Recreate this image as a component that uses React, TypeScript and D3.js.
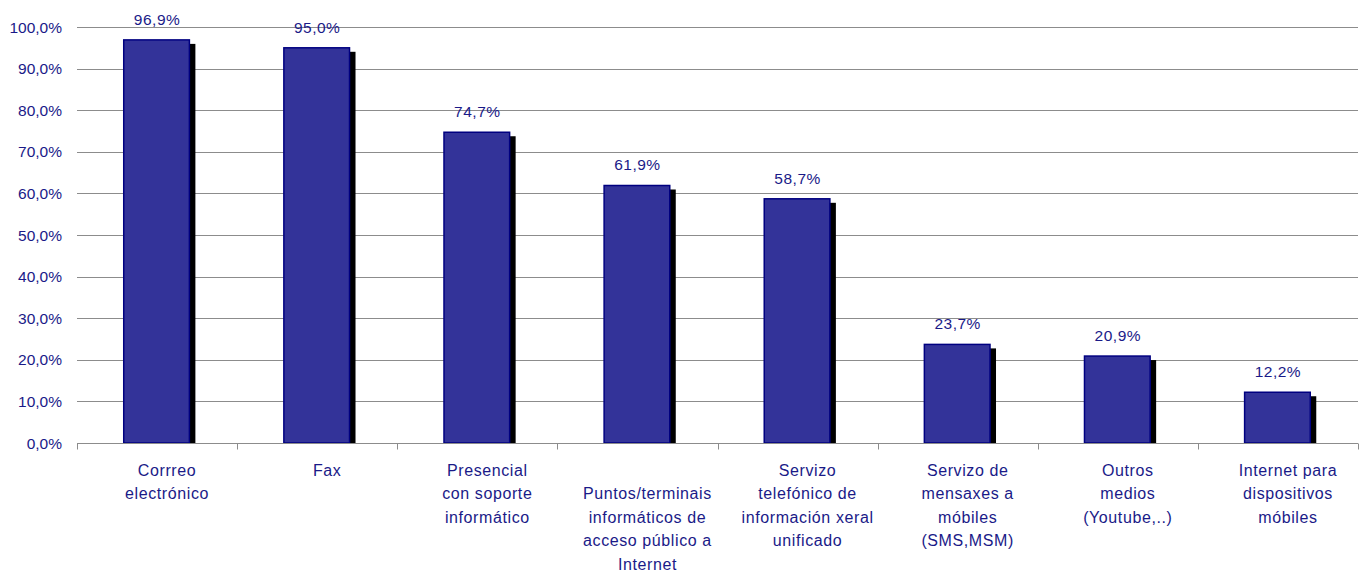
import React, { useRef, useEffect } from "react";
import * as d3 from "d3";

const categories: string[][] = [
  ["Corrreo", "electrónico"],
  ["Fax"],
  ["Presencial", "con soporte", "informático"],
  ["", "Puntos/terminais", "informáticos de", "acceso público a", "Internet"],
  ["Servizo", "telefónico de", "información xeral", "unificado"],
  ["Servizo de", "mensaxes a", "móbiles", "(SMS,MSM)"],
  ["Outros", "medios", "(Youtube,..)"],
  ["Internet para", "dispositivos", "móbiles"],
];
const values: number[] = [96.9, 95.0, 74.7, 61.9, 58.7, 23.7, 20.9, 12.2];
const yTicks: number[] = [0, 10, 20, 30, 40, 50, 60, 70, 80, 90, 100];

const fmt = (v: number) => v.toFixed(1).replace(".", ",") + "%";

const App = () => {
  const svgRef = useRef<SVGSVGElement>(null);
  const width = 1366;
  const height = 576;
  const margin = { left: 77, right: 8, top: 27, bottom: 133 };

  useEffect(() => {
    const svg = d3.select(svgRef.current);
    svg.selectAll("*").remove();

    const idx = values.map((_, i) => String(i));
    const x = d3.scaleBand().domain(idx).range([margin.left, width - margin.right]).paddingInner(0).paddingOuter(0);
    const y = d3.scaleLinear().domain([0, 100]).range([height - margin.bottom, margin.top]);

    const navy = "#1a1a88";
    const font = "Arial, 'Liberation Sans', sans-serif";

    // grid
    svg.append("g")
      .selectAll("line")
      .data(yTicks.filter((t) => t > 0))
      .enter()
      .append("line")
      .attr("x1", margin.left)
      .attr("x2", width - margin.right)
      .attr("y1", (d) => Math.round(y(d)) + 0.5)
      .attr("y2", (d) => Math.round(y(d)) + 0.5)
      .attr("stroke", "#8c8c8c")
      .attr("stroke-width", 1);

    // y labels
    svg.append("g")
      .selectAll("text")
      .data(yTicks)
      .enter()
      .append("text")
      .attr("x", 62)
      .attr("y", (d) => y(d) + 5.5)
      .attr("text-anchor", "end")
      .attr("font-family", font)
      .attr("font-size", 15.5)
      .attr("fill", navy)
      .text((d) => fmt(d));

    const bw = x.bandwidth() * 0.41;
    const bx = (i: number) => (x(String(i)) as number) + x.bandwidth() / 2 - bw / 2 - 0.5;

    // shadows
    svg.append("g")
      .selectAll("rect")
      .data(values)
      .enter()
      .append("rect")
      .attr("x", (d, i) => bx(i) + 6)
      .attr("y", (d) => y(d) + 4)
      .attr("width", bw)
      .attr("height", (d) => y(0) - y(d) - 4)
      .attr("fill", "#000");

    // bars
    svg.append("g")
      .selectAll("rect")
      .data(values)
      .enter()
      .append("rect")
      .attr("x", (d, i) => bx(i))
      .attr("y", (d) => y(d))
      .attr("width", bw)
      .attr("height", (d) => y(0) - y(d))
      .attr("fill", "#333399")
      .attr("stroke", "#000080")
      .attr("stroke-width", 1.5);

    // x axis
    const axisY = Math.round(y(0)) + 0.5;
    svg.append("line")
      .attr("x1", margin.left)
      .attr("x2", width - margin.right)
      .attr("y1", axisY)
      .attr("y2", axisY)
      .attr("stroke", "#8c8c8c");
    const bounds = idx.map((k) => x(k) as number).concat([width - margin.right]);
    svg.append("g")
      .selectAll("line")
      .data(bounds)
      .enter()
      .append("line")
      .attr("x1", (d) => Math.round(d) + 0.5)
      .attr("x2", (d) => Math.round(d) + 0.5)
      .attr("y1", axisY)
      .attr("y2", axisY + 6)
      .attr("stroke", "#8c8c8c");

    // value labels
    svg.append("g")
      .selectAll("text")
      .data(values)
      .enter()
      .append("text")
      .attr("x", (d, i) => (x(String(i)) as number) + x.bandwidth() / 2)
      .attr("y", (d) => y(d) - 15)
      .attr("text-anchor", "middle")
      .attr("font-family", font)
      .attr("font-size", 15.5)
      .attr("letter-spacing", 0.5)
      .attr("fill", navy)
      .text((d) => fmt(d));

    // category labels
    const cat = svg.append("g")
      .selectAll("text")
      .data(categories)
      .enter()
      .append("text")
      .attr("text-anchor", "middle")
      .attr("font-family", font)
      .attr("font-size", 16)
      .attr("letter-spacing", 0.6)
      .attr("fill", navy);
    cat.each(function (lines, i) {
      const cx = (x(String(i)) as number) + x.bandwidth() / 2 + 10;
      d3.select(this)
        .selectAll("tspan")
        .data(lines)
        .enter()
        .append("tspan")
        .attr("x", cx)
        .attr("y", (d, j) => 476 + j * 23.4)
        .text((d) => d);
    });
  }, []);

  return (
    <svg
      ref={svgRef}
      width={width}
      height={height}
      style={{ position: "absolute", left: 0, top: 0, background: "#fff" }}
    />
  );
};

export default App;
